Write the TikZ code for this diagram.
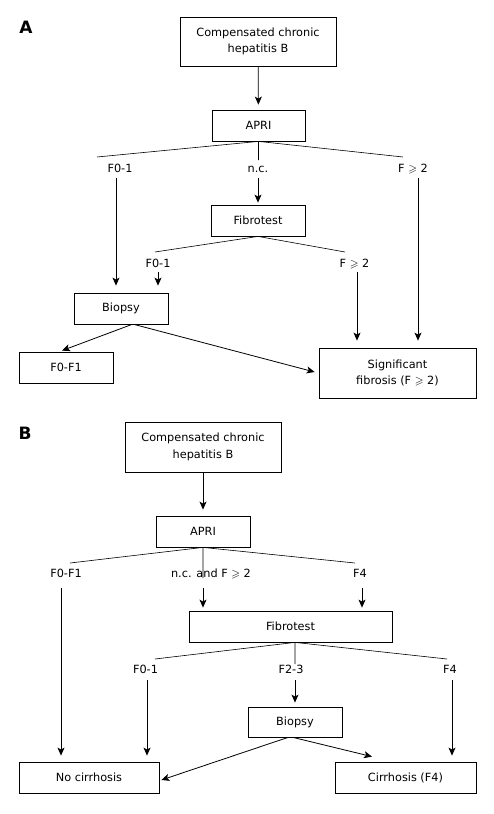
\documentclass[tikz,border=0pt]{standalone}
\usepackage{amssymb}
\usepackage{fontspec}
\setmainfont{DejaVu Sans}
\usetikzlibrary{shapes,arrows,arrows.meta,positioning}
\tikzstyle{box} = [draw=black, line width=0.8pt, rectangle, inner sep=0pt, align=center,
    font=\fontsize{11.3}{16.5}\selectfont]
\tikzstyle{tag} = [inner sep=0pt, text height=8.2pt, text depth=0pt, font=\fontsize{11.3}{13}\selectfont]
\tikzstyle{panel} = [inner sep=0pt, font=\fontsize{17}{17}\selectfont\bfseries]
\tikzstyle{branch} = [line width=0.6pt]
\tikzstyle{arrow} = [line width=0.8pt, -{Stealth[length=8pt,width=7pt,inset=2pt]}]
\newcommand{\Fgeq}{F $\geqslant$ 2}

\begin{document}
\begin{tikzpicture}[x=1pt,y=-1pt]
\path[fill=white, use as bounding box] (0,0) rectangle (494,814);

% panel A
\node[panel] (tagA) at (26,27) {A};
\node[box, minimum width=156pt, minimum height=49pt] (chbA) at (258,41.5) {Compensated chronic\\hepatitis B};
\node[box, minimum width=93pt, minimum height=31pt] (apriA) at (258.5,125.5) {APRI};
\node[box, minimum width=94pt, minimum height=31pt] (fibA) at (258,220.5) {Fibrotest};
\node[box, minimum width=94pt, minimum height=31pt] (biopA) at (121,308.5) {Biopsy};
\node[box, minimum width=94pt, minimum height=31pt] (lowA) at (66,367.5) {F0-F1};
\node[box, minimum width=157pt, minimum height=50pt] (sigA) at (397.5,373) {Significant\\fibrosis (\Fgeq)};

\node[tag] (a1) at (120,168) {F0-1};
\node[tag] (a2) at (258,168) {n.c.};
\node[tag] (a3) at (413,168) {\Fgeq};
\node[tag] (a4) at (158,263) {F0-1};
\node[tag] (a5) at (354.5,263) {\Fgeq};

\coordinate (ta1) at (97,157);
\coordinate (ta2) at (258.5,160);
\coordinate (ta3) at (403,157);
\coordinate (tb1) at (155,252);
\coordinate (tb3) at (345,252);

\draw[arrow, shorten >=5pt] (chbA) -- (apriA);
\draw[branch] (apriA.south) -- (ta1) (apriA.south) -- (ta2) (apriA.south) -- (ta3);
\draw[branch] (fibA.south) -- (tb1) (fibA.south) -- (tb3);
\draw[arrow, shorten <=6pt, shorten >=7pt] ([xshift=-4pt]a1.south) -- ([xshift=-5pt]biopA.north);
\draw[arrow, shorten <=6pt, shorten >=2pt] (a2.south) -- (fibA.north);
\draw[arrow, shorten <=6pt, shorten >=7pt] ([xshift=5pt]a3.south) -- ([xshift=20.5pt]sigA.north);
\draw[arrow, shorten <=5pt, shorten >=7pt] (a4.south) -- ([xshift=37pt]biopA.north);
\draw[arrow, shorten <=5pt, shorten >=7pt] ([xshift=2.5pt]a5.south) -- ([xshift=-40.5pt]sigA.north);
\draw[arrow] ([xshift=11pt]biopA.south) -- ([xshift=-4pt,yshift=1pt]lowA.north);
\draw[arrow] ([xshift=13pt]biopA.south) -- ([xshift=-4pt,yshift=1pt]sigA.west);

% panel B
\node[panel] (tagB) at (25,433) {B};
\node[box, minimum width=156pt, minimum height=50pt] (chbB) at (203,447) {Compensated chronic\\hepatitis B};
\node[box, minimum width=94pt, minimum height=31pt] (apriB) at (203,531.5) {APRI};
\node[box, minimum width=203pt, minimum height=31pt] (fibB) at (290.5,626.5) {Fibrotest};
\node[box, minimum width=94pt, minimum height=30pt] (biopB) at (295,722) {Biopsy};
\node[box, minimum width=140pt, minimum height=31pt] (noneB) at (89,777.5) {No cirrhosis};
\node[box, minimum width=141pt, minimum height=31pt] (cirB) at (405.5,777.5) {Cirrhosis (F4)};

\node[tag] (b1) at (66,573) {F0-F1};
\node[tag] (b2) at (211,573) {n.c. and \Fgeq};
\node[tag] (b3) at (360,573) {F4};
\node[tag] (c1) at (145.5,669) {F0-1};
\node[tag] (c2) at (291,669) {F2-3};
\node[tag] (c3) at (450,669) {F4};

\coordinate (tc1) at (70,563);
\coordinate (tc2) at (203,578);
\coordinate (tc3) at (355,563);
\coordinate (td1) at (155,659);
\coordinate (td2) at (295,664);
\coordinate (td3) at (447,659);

\draw[arrow, shorten >=6pt] (chbB) -- (apriB);
\draw[branch] (apriB.south) -- (tc1) (apriB.south) -- (tc2) (apriB.south) -- (tc3);
\draw[branch] ([xshift=4.5pt]fibB.south) -- (td1) ([xshift=4.5pt]fibB.south) -- (td2) ([xshift=4.5pt]fibB.south) -- (td3);
\draw[arrow, shorten <=11pt, shorten >=6pt] ([xshift=-5pt]b1.south) -- ([xshift=-28pt]noneB.north);
\draw[arrow, shorten <=11pt, shorten >=3pt] ([xshift=-8pt]b2.south) -- ([xshift=-87.5pt]fibB.north);
\draw[arrow, shorten <=11pt, shorten >=3pt] ([xshift=2pt]b3.south) -- ([xshift=71.5pt]fibB.north);
\draw[arrow, shorten <=7pt, shorten >=6pt] ([xshift=1.5pt]c1.south) -- ([xshift=58pt]noneB.north);
\draw[arrow, shorten <=7pt, shorten >=4pt] ([xshift=4pt]c2.south) -- (biopB.north);
\draw[arrow, shorten <=7pt, shorten >=6pt] ([xshift=2pt]c3.south) -- ([xshift=46.5pt]cirB.north);
\draw[arrow] ([xshift=-7pt]biopB.south) -- ([xshift=2pt,yshift=-2.5pt]noneB.east);
\draw[arrow] ([xshift=-2pt]biopB.south) -- ([xshift=-33.5pt,yshift=5pt]cirB.north);
\end{tikzpicture}
\end{document}
